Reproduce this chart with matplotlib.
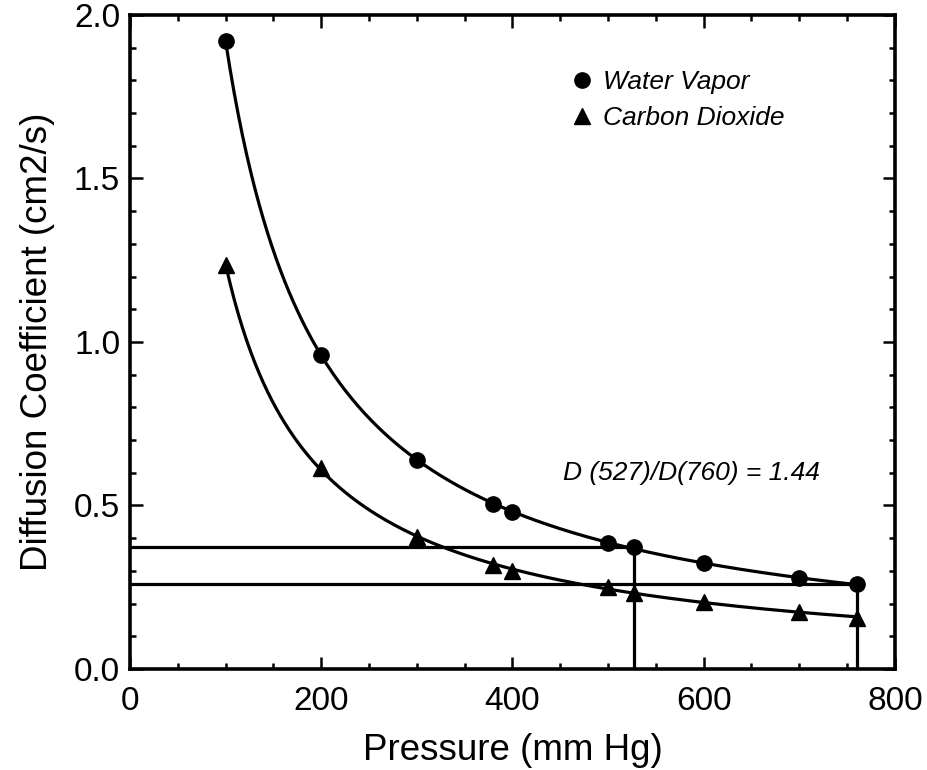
import numpy as np
import matplotlib
matplotlib.use("Agg")
import matplotlib.pyplot as plt
from matplotlib.ticker import MultipleLocator

# pressures (mm Hg) and diffusion coefficients (cm2/s)
pressure = [100, 200, 300, 380, 400, 500, 527, 600, 700, 760]
water_vapor = [1.92, 0.96, 0.64, 0.505, 0.48, 0.385, 0.373, 0.323, 0.277, 0.259]
carbon_dioxide = [1.235, 0.615, 0.405, 0.317, 0.30, 0.25, 0.232, 0.205, 0.175, 0.157]

# reference pressures for the ratio lines
ref_pressure = [527, 760]
ref_value = [water_vapor[pressure.index(p)] for p in ref_pressure]

plt.rcParams['font.family'] = ['Liberation Sans', 'DejaVu Sans']


def smooth(xs, ys, deg=3):
    # smooth curve through the points, fitted in log-log space
    lx = np.log(xs)
    coef = np.polyfit(lx, np.log(ys), deg)
    xx = np.linspace(min(xs), max(xs), 300)
    return xx, np.exp(np.polyval(coef, np.log(xx)))


fig = plt.figure(figsize=(9.27, 7.70), dpi=100)
ax = fig.add_axes([0.1402, 0.1312, 0.8252, 0.8494])

for ys, mk, name in [(water_vapor, 'o', 'Water Vapor'),
                     (carbon_dioxide, '^', 'Carbon Dioxide')]:
    xx, yy = smooth(pressure, ys)
    ax.plot(xx, yy, color='black', lw=2.3)
    ax.plot(pressure, ys, linestyle='none', marker=mk, color='black',
            markersize=11, label=name)

# ratio reference lines
ax.hlines(ref_value, 0, ref_pressure, color='black', lw=2.3)
ax.vlines(ref_pressure, 0, ref_value, color='black', lw=2.3)

ax.text(453, 0.6, 'D (527)/D(760) = 1.44', fontsize=19, style='italic',
        va='center', ha='left')

ax.set_xlim(0, 800)
ax.set_ylim(0, 2.0)
ax.xaxis.set_major_locator(MultipleLocator(200))
ax.xaxis.set_minor_locator(MultipleLocator(50))
ax.yaxis.set_major_locator(MultipleLocator(0.5))
ax.yaxis.set_minor_locator(MultipleLocator(0.1))
ax.yaxis.set_major_formatter(matplotlib.ticker.FormatStrFormatter('%.1f'))

ax.tick_params(which='both', direction='in', top=True, right=True,
               width=1.8, labelsize=24)
ax.tick_params(which='major', length=9)
ax.tick_params(which='minor', length=4)
ax.tick_params(axis='x', pad=12)
ax.tick_params(axis='y', pad=7)
for s in ax.spines.values():
    s.set_linewidth(2.6)

ax.set_xlabel('Pressure (mm Hg)', fontsize=26.5, labelpad=12)
ax.set_ylabel('Diffusion Coefficient (cm2/s)', fontsize=26.5, labelpad=14)

ax.legend(loc='upper left', bbox_to_anchor=(0.56, 0.932), frameon=False,
          handlelength=1.0, handletextpad=0.3, labelspacing=0.45,
          borderaxespad=0, prop={'size': 19, 'style': 'italic'})

fig.savefig('out.png', dpi=100)
